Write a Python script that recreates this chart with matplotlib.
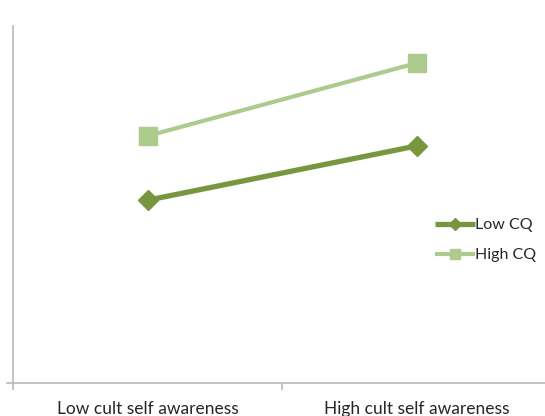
import numpy as np
import matplotlib.pyplot as plt

# Interaction plot: CQ level across cultural self awareness
categories = ["Low cult self awareness", "High cult self awareness"]
low_cq = [2.56, 3.32]
high_cq = [3.46, 4.48]

dark_green = "#77963E"
light_green = "#ADCB8D"
axis_grey = "#BEBEBE"

plt.rcParams["font.family"] = ["Lato", "DejaVu Sans"]

fig = plt.figure(figsize=(5.45, 4.16), dpi=100)
ax = fig.add_axes([13 / 545, 33 / 416, 538 / 545, 357 / 416])

x = np.arange(len(categories))
ax.plot(x, low_cq, color=dark_green, lw=3.8, marker="D", ms=10.5,
        mec=dark_green, label="Low CQ", solid_capstyle="butt")
ax.plot(x, high_cq, color=light_green, lw=3.0, marker="s", ms=13.5,
        mec=light_green, label="High CQ", solid_capstyle="butt")

ax.set_xlim(-0.5, 1.5)
ax.set_ylim(0, 5)

for side in ["top", "right"]:
    ax.spines[side].set_visible(False)
for side in ["left", "bottom"]:
    ax.spines[side].set_color(axis_grey)
    ax.spines[side].set_linewidth(1.3)

# category labels centred, tick marks between categories
ax.set_xticks(x)
ax.set_xticklabels(categories, fontsize=12.5, color="#262626")
ax.tick_params(axis="x", which="major", length=0, pad=13)
ax.set_xticks([-0.5, 0.5, 1.5], minor=True)
ax.tick_params(axis="x", which="minor", length=5, color=axis_grey, width=1.3)
ax.set_yticks([0])
ax.set_yticklabels([])
ax.tick_params(axis="y", length=5, color=axis_grey, width=1.3)

leg = ax.legend(loc="upper left", bbox_to_anchor=(0.772, 0.48), frameon=False,
                fontsize=11.5, handlelength=2.5, handletextpad=0.05,
                labelspacing=1.0, borderaxespad=0)
for t in leg.get_texts():
    t.set_color("#262626")
for h in leg.legend_handles:
    h.set_markersize(h.get_markersize() * 0.55)

fig.savefig("out.png", dpi=100)
